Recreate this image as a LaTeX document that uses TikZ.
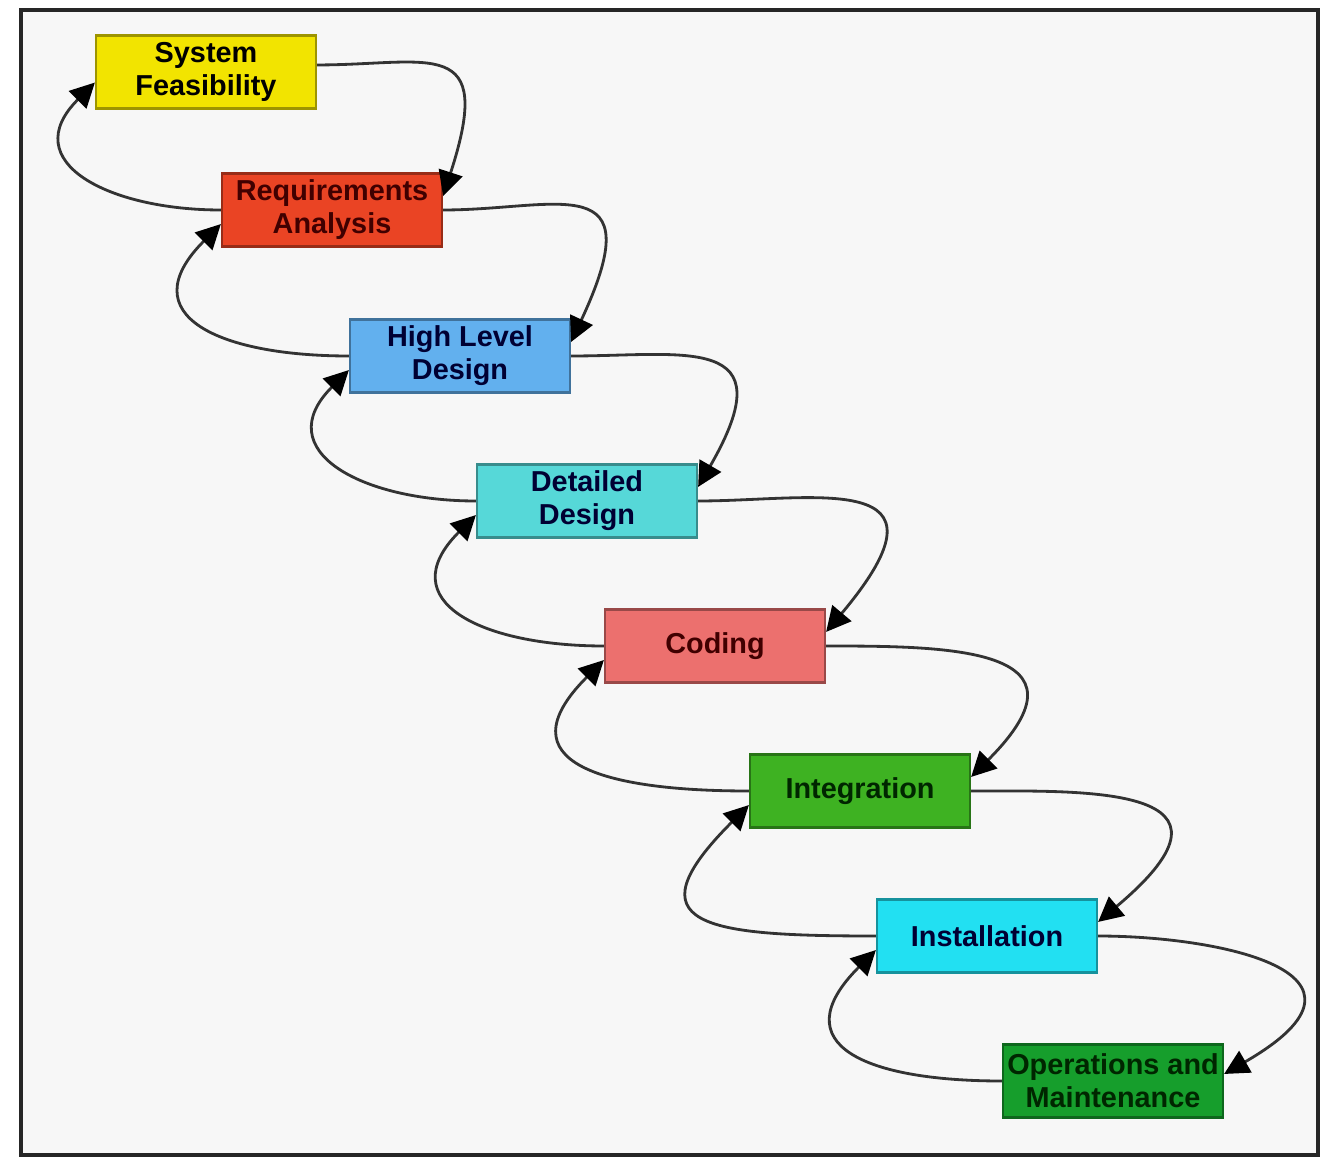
\documentclass[tikz,border=0pt]{standalone}
\usepackage{fontspec}
\setmainfont{Liberation Sans}
\usetikzlibrary{arrows.meta}

\definecolor{feasyellow}{RGB}{242,228,0}
\definecolor{reqred}{RGB}{234,68,36}
\definecolor{hldblue}{RGB}{98,176,238}
\definecolor{ddcyan}{RGB}{86,216,216}
\definecolor{codered}{RGB}{236,112,110}
\definecolor{intgreen}{RGB}{62,178,34}
\definecolor{instcyan}{RGB}{34,224,242}
\definecolor{opsgreen}{RGB}{22,158,44}
\definecolor{paper}{RGB}{247,247,247}

\tikzset{
  phase/.style={draw=#1!65!black, fill=#1, line width=0.6pt,
    minimum width=2.2cm, minimum height=0.73cm, inner sep=0pt,
    align=center, font=\fontsize{8.2}{9.4}\selectfont\bfseries},
  flow/.style={draw=black!80, line width=0.8pt,
    -{Triangle[length=7pt,width=7pt,fill=black,color=black]}},
}

\begin{document}
\begin{tikzpicture}[x=0.01cm, y=0.01cm]
		%%%%% frame %%%%%
		\useasboundingbox (0, 0) rectangle (1333, -1158);
		\fill[white] (0, 0) rectangle (1333, -1158);
		\draw[fill=paper, draw=black!85, line width=0.9pt] (21, -10) rectangle (1318, -1155);
		
		%%%%% phases %%%%%
		\node[phase=feasyellow, text=black] (feas) at (206, -72) {System\\Feasibility};
		\node[phase=reqred, text=black!75!red] (req) at (332, -210) {Requirements\\Analysis};
		\node[phase=hldblue, text=black!80!blue] (hld) at (460, -356) {High Level\\Design};
		\node[phase=ddcyan, text=black!80!blue] (dd) at (587, -501) {Detailed\\Design};
		\node[phase=codered, text=black!75!red] (code) at (715, -646) {Coding};
		\node[phase=intgreen, text=black!85!green] (integ) at (860, -791) {Integration};
		\node[phase=instcyan, text=black!80!blue] (inst) at (987, -936) {Installation};
		\node[phase=opsgreen, text=black!85!green] (ops) at (1113, -1081) {Operations and\\Maintenance};
		
		%%%%% forward arrows (right side) %%%%%
		\draw[flow] ([yshift=2pt]feas.east) to[out=0, in=72, out looseness=1.6, in looseness=2.4] ([yshift=4pt]req.east);
		\draw[flow] (req.east) to[out=0, in=65, out looseness=1.6, in looseness=2.7] ([yshift=4pt]hld.east);
		\draw[flow] (hld.east) to[out=0, in=60, out looseness=1.6, in looseness=2.5] ([yshift=4pt]dd.east);
		\draw[flow] (dd.east) to[out=0, in=50, out looseness=1.6, in looseness=3.0] ([yshift=4pt]code.east);
		\draw[flow] (code.east) to[out=0, in=45, out looseness=1.6, in looseness=2.4] ([yshift=4pt]integ.east);
		\draw[flow] (integ.east) to[out=0, in=40, out looseness=1.6, in looseness=3.0] ([yshift=4pt]inst.east);
		\draw[flow] (inst.east) to[out=0, in=30, out looseness=1.6, in looseness=2.8] ([yshift=2pt]ops.east);
		
		%%%%% feedback arrows (left side) %%%%%
		\draw[flow] (req.west) to[out=180, in=225, looseness=1.6] ([yshift=-3pt]feas.west);
		\draw[flow] (hld.west) to[out=180, in=225, looseness=1.8] ([yshift=-4pt]req.west);
		\draw[flow] (dd.west) to[out=180, in=225, looseness=1.6] ([yshift=-4pt]hld.west);
		\draw[flow] (code.west) to[out=180, in=225, looseness=1.7] ([yshift=-4pt]dd.west);
		\draw[flow] (integ.west) to[out=180, in=225, looseness=1.9] ([yshift=-4pt]code.west);
		\draw[flow] (inst.west) to[out=180, in=225, looseness=2.4] ([yshift=-4pt]integ.west);
		\draw[flow] (ops.west) to[out=180, in=225, looseness=1.9] ([yshift=-4pt]inst.west);
		
	\end{tikzpicture}
\end{document}
